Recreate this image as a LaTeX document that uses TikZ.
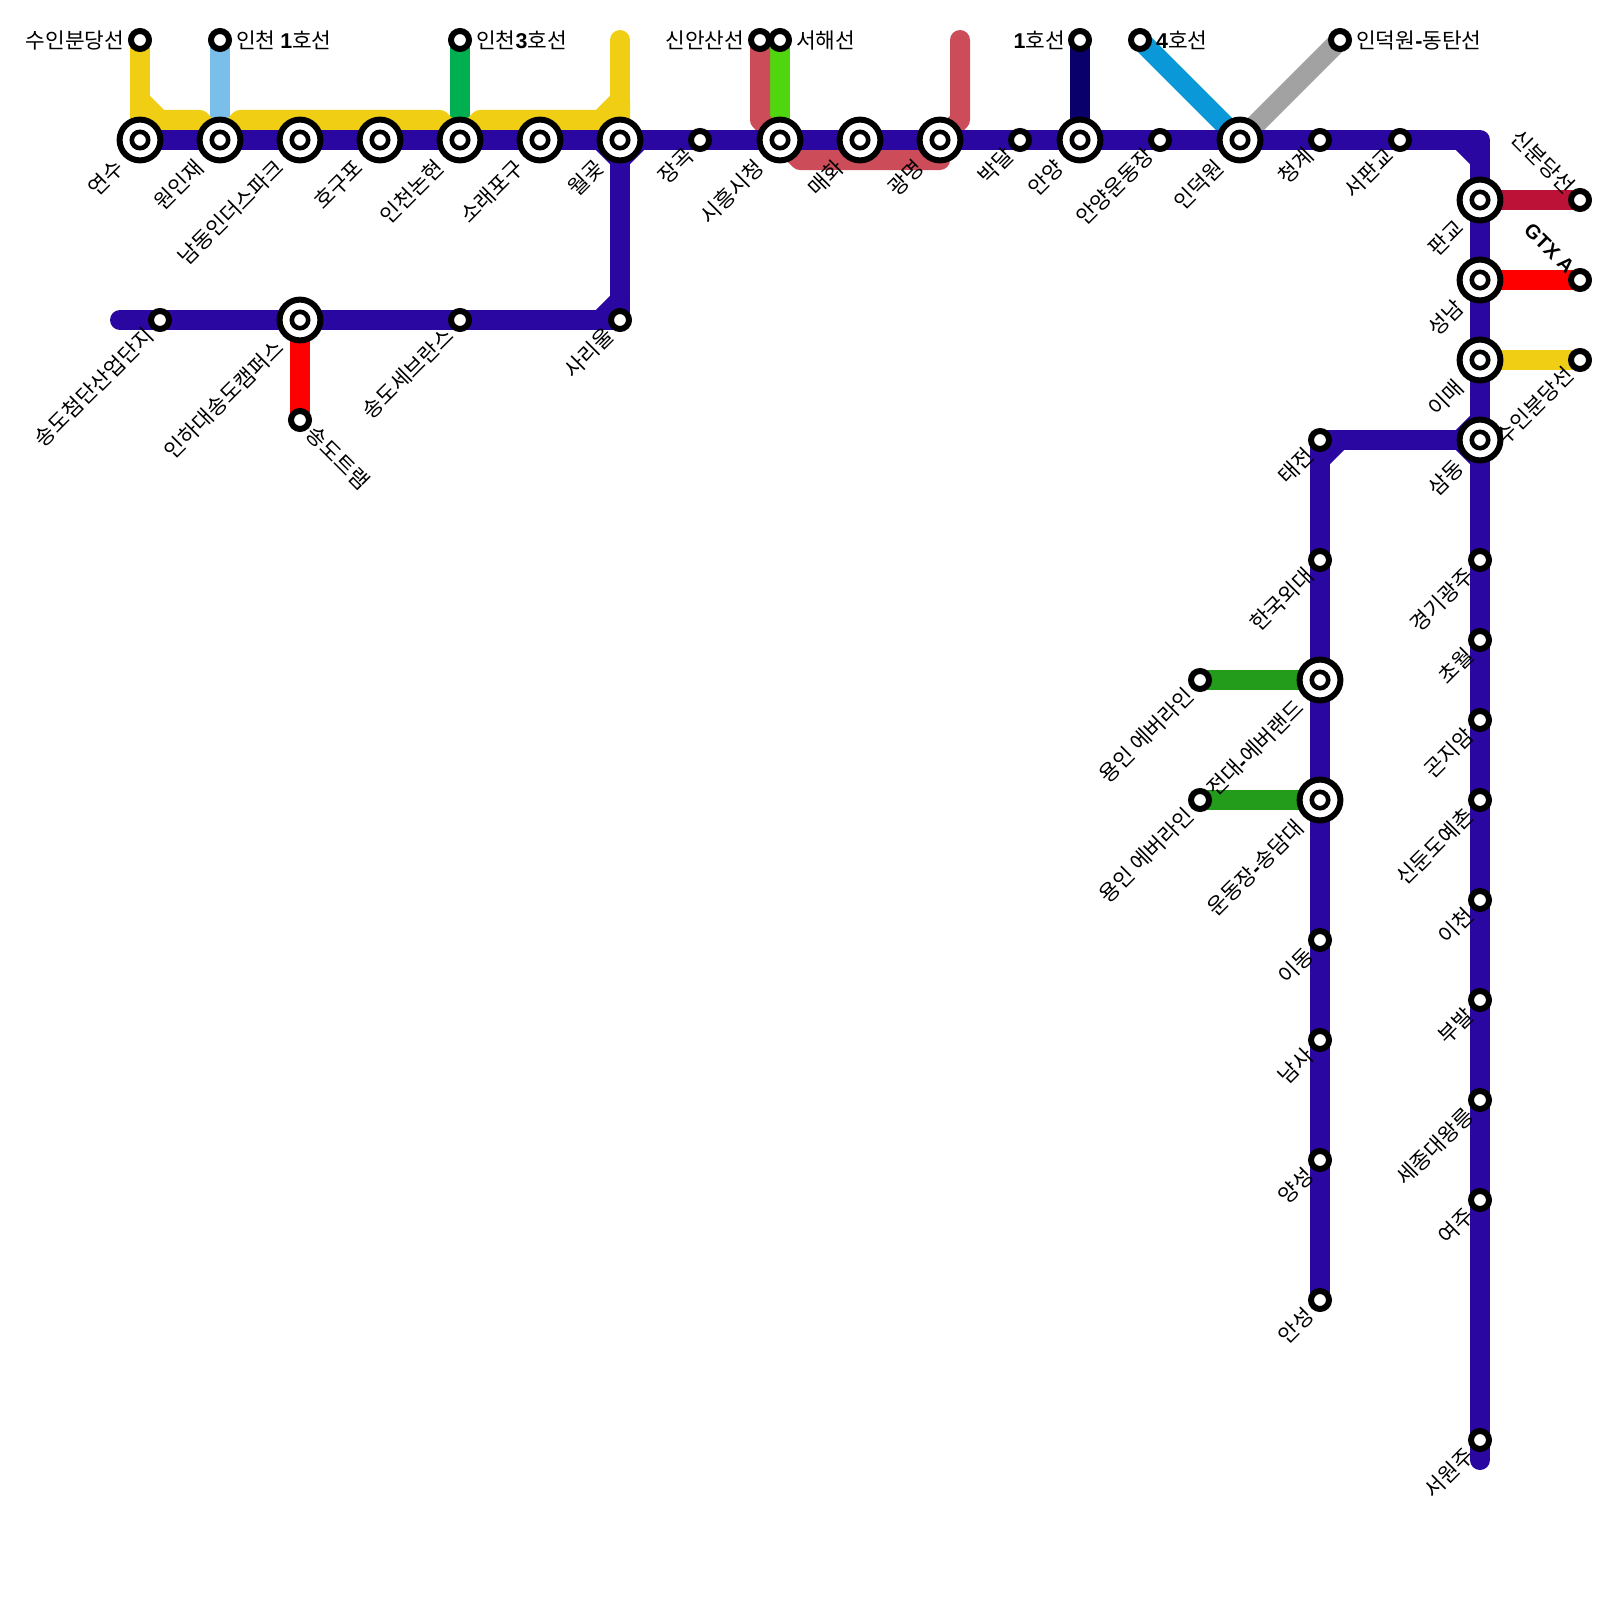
\documentclass[tikz,border=0pt]{standalone}
\usepackage{fontspec}
\setmainfont{Noto Sans CJK KR}
\newfontfamily\latf{Liberation Sans}
\newcommand{\lb}[1]{{\latf\bfseries #1}}
\usetikzlibrary{calc}
\pgfdeclarelayer{lines}
\pgfsetlayers{lines,main}
\definecolor{cBlue}{HTML}{2A07A0}
\definecolor{cYel}{HTML}{F0CE14}
\definecolor{cSky}{HTML}{7ABFEA}
\definecolor{cInc}{HTML}{00B050}
\definecolor{cRose}{HTML}{CD4C5A}
\definecolor{cLime}{HTML}{4FD60E}
\definecolor{cNavy}{HTML}{0A006B}
\definecolor{cFour}{HTML}{0A98D8}
\definecolor{cGrey}{HTML}{A2A2A2}
\definecolor{cCrim}{HTML}{BC1238}
\definecolor{cGreen}{HTML}{239B1B}
\tikzset{
  track/.style={line width=20pt,line cap=round,line join=round},
  smallst/.style={circle,draw=black,fill=white,line width=6pt,minimum size=18pt,inner sep=0pt},
  bigst/.style={circle,draw=black,fill=white,line width=6pt,minimum size=40.8pt,inner sep=0pt},
  corest/.style={circle,draw=black,fill=white,line width=4.6pt,minimum size=16.4pt,inner sep=0pt},
  lab/.style={font=\fontsize{21.4}{25}\selectfont,text=black,inner sep=0pt},
  diag/.style={lab,anchor=east,rotate=45},
  diagr/.style={lab,anchor=east,rotate=-45},
  diagw/.style={lab,anchor=west,rotate=-45},
}
\begin{document}
\begin{tikzpicture}[x=1pt,y=-1pt]
\useasboundingbox (0,0) rectangle (1600,1600);
% interchange stations
\foreach \n/\x/\y in {
 yeonsu/140/140,wonin/220/140,namdong/300/140,hogu/380/140,nonhyeon/460/140,
 sorae/540/140,wolgot/620/140,siheung/780/140,maehwa/860/140,gwangmyeong/940/140,
 anyang/1080/140,indeok/1240/140,pangyo/1480/200,seongnam/1480/280,imae/1480/360,
 samdong/1480/440,inha/300/320,jeondae/1320/680,undong/1320/800}{
  \node[bigst] (\n) at (\x,\y) {};
  \node[corest] (\n-c) at (\x,\y) {};
}
% plain stations
\foreach \n/\x/\y in {
 tSuin/140/40,tInc1/220/40,tInc3/460/40,tShin/760/40,tSeohae/780/40,tOne/1080/40,
 tFour/1140/40,tDong/1340/40,janggok/700/140,bakdal/1020/140,anyangun/1160/140,
 cheonggye/1320/140,seopan/1400/140,rSin/1580/200,rGtx/1580/280,rSuin/1580/360,
 songdo/160/320,sever/460/320,sariul/620/320,tram/300/420,
 taejeon/1320/440,hanguk/1320/560,ever1/1200/680,ever2/1200/800,idong/1320/940,
 namsa/1320/1040,yangseong/1320/1160,anseong/1320/1300,
 gwangju/1480/560,chowol/1480/640,gonjiam/1480/720,sindun/1480/800,icheon/1480/900,
 bubal/1480/1000,sejong/1480/1100,yeoju/1480/1200,wonju/1480/1440}{
  \node[smallst] (\n) at (\x,\y) {};
}
% free ends and bends
\coordinate (yTop) at (620,40);
\coordinate (rTopR) at (960,40);
\coordinate (bStart) at (120,320);
\coordinate (bEnd) at (1480,1460);
\begin{pgfonlayer}{lines}
% feeder lines
\draw[track,cSky] (tInc1.center) -- (wonin.center);
\draw[track,cInc] (tInc3.center) -- (nonhyeon.center);
\draw[track,cLime] (tSeohae.center) -- (siheung.center);
\draw[track,cNavy] (tOne.center) -- (anyang.center);
\draw[track,cFour] (tFour.center) -- (indeok.center);
\draw[track,cGrey] (tDong.center) -- (indeok.center);
\draw[track,red] (inha.center) -- (tram.center);
\draw[track,cCrim] (pangyo.center) -- (rSin.center);
\draw[track,red] (seongnam.center) -- (rGtx.center);
\draw[track,cYel] (imae.center) -- (rSuin.center);
\draw[track,cGreen] (jeondae.center) -- (ever1.center);
\draw[track,cGreen] (undong.center) -- (ever2.center);
% Suin-Bundang line
\draw[track,cYel] (tSuin.center) -- (yeonsu.center);
\draw[track,cYel] (yeonsu.center) -- (140,100) -- (160,120) -- (200,120) -- (wonin.center);
\draw[track,cYel] (wonin.center) -- (240,120) -- (440,120) -- (nonhyeon.center);
\draw[track,cYel] (nonhyeon.center) -- (480,120) -- (600,120) -- (620,100) -- (wolgot.center);
\draw[track,cYel] (yTop) -- (wolgot.center);
% Sinansan line
\draw[track,cRose] (tShin.center) -- (760,120) -- (siheung.center) -- (800,160) -- (940,160) -- (gwangmyeong.center) -- (960,120) -- (rTopR);
% main line
\draw[track,cBlue] (yeonsu.center) -- (1480,140) -- (samdong.center);
\draw[track,cBlue] (1460,140) -- (1480,160);
\draw[track,cBlue] (samdong.center) -- (bEnd);
\draw[track,cBlue] (samdong.center) -- (taejeon.center) -- (anseong.center);
\draw[track,cBlue] (1340,440) -- (1320,460);
\draw[track,cBlue] (1480,420) -- (1460,440) -- (1480,460);
\draw[track,cBlue] (wolgot.center) -- (sariul.center) -- (bStart);
\draw[track,cBlue] (620,300) -- (600,320);
\draw[track,cBlue] (600,140) -- (620,160) -- (640,140);
\end{pgfonlayer}
% labels of line ends
\node[lab,anchor=east] (l1) at (124.5,40) {수인분당선};
\node[lab,anchor=west] (l2) at (236,40) {인천 \lb{1}호선};
\node[lab,anchor=west] (l3) at (476,40) {인천\lb{3}호선};
\node[lab,anchor=east] (l4) at (744.5,40) {신안산선};
\node[lab,anchor=west] (l5) at (796,40) {서해선};
\node[lab,anchor=east] (l6) at (1065,40) {\lb{1}호선};
\node[lab,anchor=west] (l7) at (1156,40) {\lb{4}호선};
\node[lab,anchor=west] (l8) at (1356,40) {인덕원\lb{-}동탄선};
\node[diagr] (l9) at ($(rSin.center)+(-9,-10)$) {신분당선};
\node[diagr,font=\fontsize{20}{24}\selectfont] (l10) at ($(rGtx.center)+(-9,-10)$) {\lb{GTX A}};
\node[diag] (l11) at ($(rSuin.center)+(-10,11)$) {수인분당선};
\node[diagw] (l12) at ($(tram.center)+(10,10)$) {송도트램};
% labels of interchanges
\foreach \n/\t in {yeonsu/연수,wonin/원인재,namdong/남동인더스파크,hogu/호구포,nonhyeon/인천논현,
 sorae/소래포구,wolgot/월곶,siheung/시흥시청,maehwa/매화,gwangmyeong/광명,anyang/안양,
 indeok/인덕원,pangyo/판교,seongnam/성남,imae/이매,samdong/삼동,inha/인하대송도캠퍼스,
 jeondae/{전대\lb{-}에버랜드},undong/{운동장\lb{-}송담대}}{
  \node[diag] (\n-l) at ($(\n.center)+(-20.5,23.5)$) {\t};
}
% labels of plain stations
\foreach \n/\t in {janggok/장곡,bakdal/박달,anyangun/안양운동장,cheonggye/청계,seopan/서판교,
 songdo/송도첨단산업단지,sever/송도세브란스,sariul/사리울,taejeon/태전,hanguk/한국외대,
 ever1/용인 에버라인,ever2/용인 에버라인,idong/이동,namsa/남사,yangseong/양성,anseong/안성,
 gwangju/경기광주,chowol/초월,gonjiam/곤지암,sindun/신둔도예촌,icheon/이천,bubal/부발,
 sejong/세종대왕릉,yeoju/여주,wonju/서원주}{
  \node[diag] (\n-l) at ($(\n.center)+(-10.5,11.5)$) {\t};
}
\end{tikzpicture}
\end{document}
